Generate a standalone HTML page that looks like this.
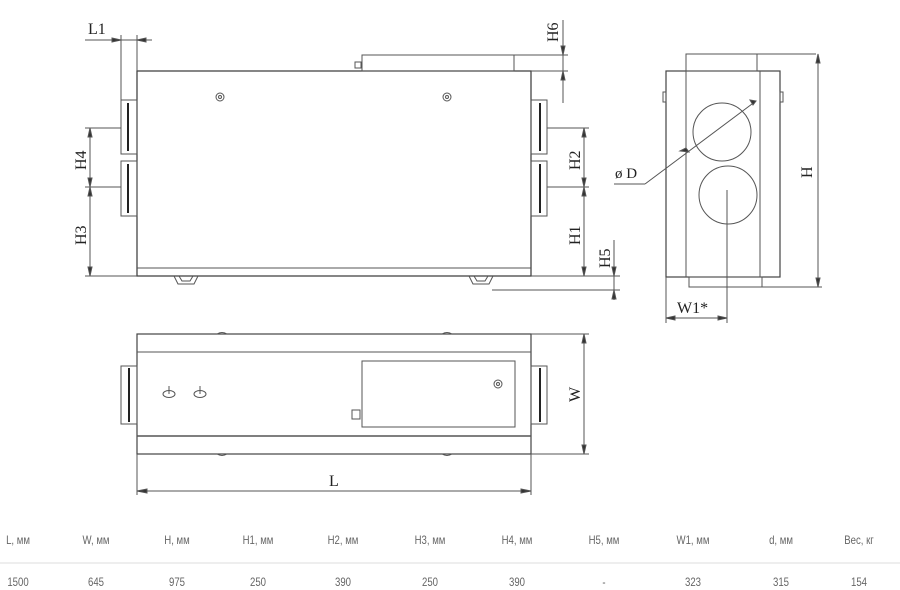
<!DOCTYPE html>
<html><head><meta charset="utf-8"><style>
body{margin:0;background:#fff;width:900px;height:590px;overflow:hidden;position:relative}
svg{position:absolute;left:0;top:0}
.t{position:absolute;font-family:"Liberation Sans",sans-serif;font-size:12px;color:#666;transform:translateX(-50%) scaleX(0.8);white-space:nowrap}
</style></head><body>
<svg width="900" height="590" viewBox="0 0 900 590" fill="none" stroke="#555" stroke-width="1" font-family="Liberation Serif,serif" font-size="16">
<rect x="137" y="71" width="394" height="205" stroke="#444" stroke-width="1.3"/>
<line x1="137" y1="268" x2="531" y2="268"/>
<rect x="362" y="55" width="152" height="16"/>
<rect x="355" y="62" width="6" height="6"/>
<circle cx="220" cy="97" r="4"/><circle cx="220" cy="97" r="1.5"/>
<circle cx="447" cy="97" r="4"/><circle cx="447" cy="97" r="1.5"/>
<rect x="121" y="100" width="16" height="54"/><rect x="121" y="161" width="16" height="55"/>
<rect x="531" y="100" width="16" height="54"/><rect x="531" y="161" width="16" height="55"/>
<line x1="128" y1="103" x2="128" y2="151" stroke="#222" stroke-width="2"/>
<line x1="128" y1="164" x2="128" y2="213" stroke="#222" stroke-width="2"/>
<line x1="540" y1="103" x2="540" y2="151" stroke="#222" stroke-width="2"/>
<line x1="540" y1="164" x2="540" y2="213" stroke="#222" stroke-width="2"/>
<path d="M174 276 L178 284 L194 284 L198 276 M179 276 L182 281 L190 281 L193 276"/>
<path d="M469 276 L473 284 L489 284 L493 276 M474 276 L477 281 L485 281 L488 276"/>
<line x1="121" y1="35" x2="121" y2="100"/><line x1="137" y1="35" x2="137" y2="71"/>
<line x1="85" y1="40" x2="152" y2="40"/>
<path d="M112 38 L121 40 L112 42Z M146 38 L137 40 L146 42Z" fill="#333"/>
<text x="88" y="34" fill="#222" stroke="none">L1</text>
<line x1="514" y1="55" x2="568" y2="55"/><line x1="531" y1="71" x2="568" y2="71"/>
<line x1="563" y1="20" x2="563" y2="103"/>
<path d="M561 46 L563 55 L565 46Z M561 80 L563 71 L565 80Z" fill="#333"/>
<text transform="translate(558,42) rotate(-90)" fill="#222" stroke="none">H6</text>
<line x1="85" y1="128" x2="121" y2="128"/><line x1="85" y1="187" x2="121" y2="187"/><line x1="85" y1="276" x2="137" y2="276"/>
<line x1="90" y1="128" x2="90" y2="276"/>
<path d="M88 137 L90 128 L92 137Z M88 178 L90 187 L92 178Z M88 196 L90 187 L92 196Z M88 267 L90 276 L92 267Z" fill="#333"/>
<text transform="translate(86,170) rotate(-90)" fill="#222" stroke="none">H4</text>
<text transform="translate(86,245) rotate(-90)" fill="#222" stroke="none">H3</text>
<line x1="547" y1="128" x2="589" y2="128"/><line x1="547" y1="187" x2="589" y2="187"/><line x1="531" y1="276" x2="620" y2="276"/>
<line x1="584" y1="128" x2="584" y2="276"/>
<path d="M582 137 L584 128 L586 137Z M582 178 L584 187 L586 178Z M582 196 L584 187 L586 196Z M582 267 L584 276 L586 267Z" fill="#333"/>
<text transform="translate(580,170) rotate(-90)" fill="#222" stroke="none">H2</text>
<text transform="translate(580,245) rotate(-90)" fill="#222" stroke="none">H1</text>
<line x1="492" y1="290" x2="620" y2="290"/>
<line x1="614" y1="240" x2="614" y2="300"/>
<path d="M612 267 L614 276 L616 267Z M612 299 L614 290 L616 299Z" fill="#333"/>
<text transform="translate(610,268) rotate(-90)" fill="#222" stroke="none">H5</text>
<rect x="666" y="71" width="114" height="206" stroke="#444" stroke-width="1.2"/>
<line x1="686" y1="71" x2="686" y2="277"/><line x1="760" y1="71" x2="760" y2="277"/>
<rect x="686" y="54" width="71" height="17"/>
<rect x="689" y="277" width="73" height="10"/>
<rect x="663" y="92" width="3" height="10"/><rect x="780" y="92" width="3" height="10"/>
<circle cx="722" cy="132" r="29"/><circle cx="728" cy="195" r="29"/>
<line x1="816" y1="54" x2="757" y2="54"/><line x1="762" y1="287" x2="822" y2="287"/>
<line x1="818" y1="54" x2="818" y2="287"/>
<path d="M816 63 L818 54 L820 63Z M816 278 L818 287 L820 278Z" fill="#333"/>
<text transform="translate(812,178) rotate(-90)" fill="#222" stroke="none">H</text>
<line x1="614" y1="184" x2="645" y2="184"/><line x1="645" y1="184" x2="756" y2="101"/>
<path d="M750 100 L756 101 L753 105Z M686 148 L680 151 L689 152Z" fill="#333"/>
<text x="615" y="178" fill="#222" stroke="none" font-size="15">ø D</text>
<line x1="666" y1="277" x2="666" y2="323"/><line x1="727" y1="190" x2="727" y2="323"/>
<line x1="666" y1="318" x2="727" y2="318"/>
<path d="M675 316 L666 318 L675 320Z M718 316 L727 318 L718 320Z" fill="#333"/>
<text x="677" y="313" fill="#222" stroke="none">W1*</text>
<rect x="137" y="334" width="394" height="120" stroke="#444" stroke-width="1.2"/>
<line x1="137" y1="352" x2="531" y2="352"/><line x1="137" y1="436" x2="531" y2="436" stroke-width="1.4"/>
<rect x="362" y="361" width="153" height="66"/>
<rect x="352" y="410" width="8" height="9"/>
<circle cx="498" cy="384" r="4"/><circle cx="498" cy="384" r="1.5"/>
<rect x="121" y="366" width="16" height="58"/><rect x="531" y="366" width="16" height="58"/>
<line x1="129" y1="368" x2="129" y2="422" stroke="#222" stroke-width="2"/>
<line x1="540" y1="368" x2="540" y2="422" stroke="#222" stroke-width="2"/>
<path d="M217 334 q5 -3 10 0 M442 334 q5 -3 10 0 M217 454 q5 3 10 0 M442 454 q5 3 10 0"/>
<ellipse cx="169" cy="394" rx="6" ry="3.5"/><line x1="169" y1="386" x2="169" y2="394"/>
<ellipse cx="200" cy="394" rx="6" ry="3.5"/><line x1="200" y1="386" x2="200" y2="394"/>
<line x1="531" y1="334" x2="589" y2="334"/><line x1="531" y1="454" x2="589" y2="454"/>
<line x1="584" y1="334" x2="584" y2="454"/>
<path d="M582 343 L584 334 L586 343Z M582 445 L584 454 L586 445Z" fill="#333"/>
<text transform="translate(580,402) rotate(-90)" fill="#222" stroke="none">W</text>
<line x1="137" y1="454" x2="137" y2="495"/><line x1="531" y1="454" x2="531" y2="495"/>
<line x1="137" y1="491" x2="531" y2="491"/>
<path d="M147 489 L137 491 L147 493Z M521 489 L531 491 L521 493Z" fill="#333"/>
<text x="329" y="486" fill="#222" stroke="none">L</text>
<line x1="0" y1="563" x2="900" y2="563" stroke="#ddd"/>
</svg>
<div class="t" style="left:18px;top:533px">L, мм</div><div class="t" style="left:18px;top:575px">1500</div>
<div class="t" style="left:96px;top:533px">W, мм</div><div class="t" style="left:96px;top:575px">645</div>
<div class="t" style="left:177px;top:533px">H, мм</div><div class="t" style="left:177px;top:575px">975</div>
<div class="t" style="left:258px;top:533px">H1, мм</div><div class="t" style="left:258px;top:575px">250</div>
<div class="t" style="left:343px;top:533px">H2, мм</div><div class="t" style="left:343px;top:575px">390</div>
<div class="t" style="left:430px;top:533px">H3, мм</div><div class="t" style="left:430px;top:575px">250</div>
<div class="t" style="left:517px;top:533px">H4, мм</div><div class="t" style="left:517px;top:575px">390</div>
<div class="t" style="left:604px;top:533px">H5, мм</div><div class="t" style="left:604px;top:575px">-</div>
<div class="t" style="left:693px;top:533px">W1, мм</div><div class="t" style="left:693px;top:575px">323</div>
<div class="t" style="left:781px;top:533px">d, мм</div><div class="t" style="left:781px;top:575px">315</div>
<div class="t" style="left:859px;top:533px">Вес, кг</div><div class="t" style="left:859px;top:575px">154</div>
</body></html>
